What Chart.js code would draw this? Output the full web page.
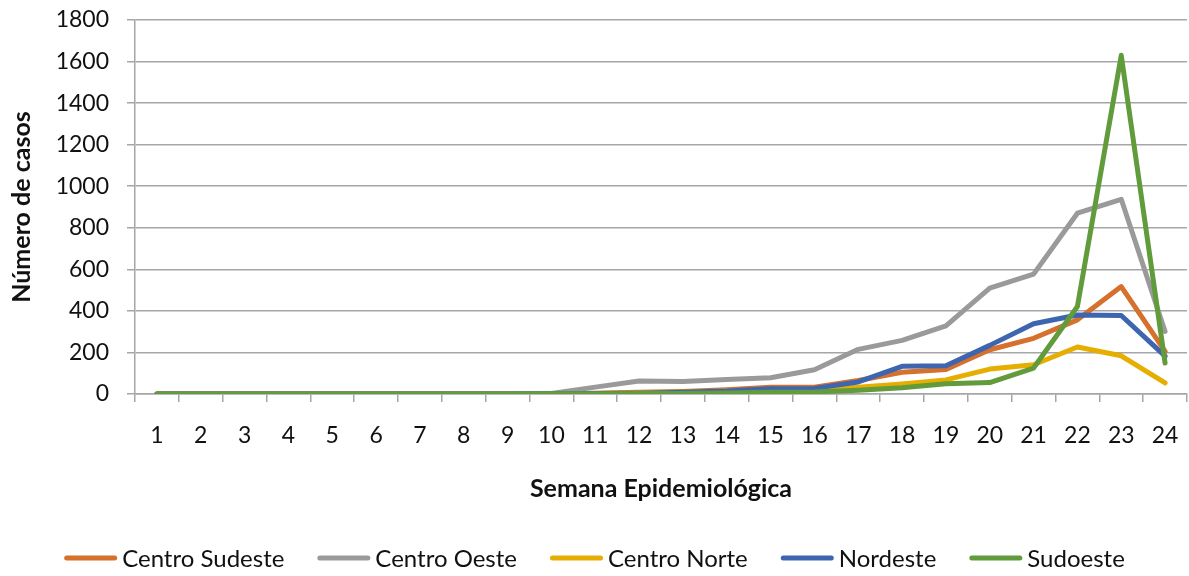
<!DOCTYPE html>
<html lang="pt">
<head>
<meta charset="utf-8">
<title>Casos por semana epidemiológica</title>
<script src="https://cdn.jsdelivr.net/npm/chart.js@4.4.1/dist/chart.umd.min.js"></script>
<style>
  html, body { margin: 0; padding: 0; background: #ffffff; }
  #wrap { width: 1189px; height: 576px; position: relative; }
</style>
</head>
<body>
<div id="wrap"><canvas id="chart" width="1189" height="576"></canvas></div>
<script>
// Semanas epidemiológicas 1–24
const weeks = ['1','2','3','4','5','6','7','8','9','10','11','12','13','14','15','16','17','18','19','20','21','22','23','24'];

// Número de casos por região
const centroSudeste = [0,0,0,0,0,0,0,0,0,2,4,8,12,20,32,33,65,105,118,213,268,357,517,205];
const centroOeste   = [0,0,0,0,0,0,0,0,0,3,33,63,60,70,78,117,215,258,328,510,577,870,937,301];
const centroNorte   = [0,0,0,0,0,0,0,0,0,1,3,5,8,14,20,22,32,48,68,120,141,226,184,53];
const nordeste      = [0,0,0,0,0,0,0,0,0,1,2,4,8,14,25,27,58,133,136,234,338,380,378,182];
const sudoeste      = [0,0,0,0,0,0,0,0,0,1,1,2,3,5,8,10,18,30,49,55,125,421,1630,149];

const seriesNames  = ['Centro Sudeste', 'Centro Oeste', 'Centro Norte', 'Nordeste', 'Sudoeste'];
const seriesValues = [centroSudeste, centroOeste, centroNorte, nordeste, sudoeste];
const seriesColors = ['#d5712c', '#9a9a9a', '#e5ae00', '#3e66b0', '#629b3c'];

const yTicks = { min: 0, max: 1800, step: 200 };

const FONT = "Lato, 'Open Sans', 'Liberation Sans', sans-serif";
const GRID = '#a6a6a6';
const TEXT = '#111111';

const datasets = seriesNames.map((name, i) => ({
  label: name,
  data: seriesValues[i],
  borderColor: seriesColors[i],
  backgroundColor: seriesColors[i],
  borderWidth: 5,
  pointRadius: 0,
  pointHoverRadius: 0,
  tension: 0,
  fill: false,
  borderCapStyle: 'round',
  borderJoinStyle: 'round',
  // later series are painted over earlier ones
  order: seriesNames.length - i
}));

// Legend row under the axis title: short thick line + series name
const bottomLegend = {
  id: 'bottomLegend',
  afterDraw(chart) {
    const ctx = chart.ctx;
    const lineW = 53, gap = 5, spacing = 33, y = 558;
    ctx.save();
    ctx.font = "24px " + FONT;
    const widths = seriesNames.map(n => ctx.measureText(n).width);
    let total = 0;
    widths.forEach((w, i) => { total += lineW + gap + w + (i < widths.length - 1 ? spacing : 0); });
    let x = (chart.width - total) / 2;
    seriesNames.forEach((name, i) => {
      ctx.strokeStyle = seriesColors[i];
      ctx.lineWidth = 5;
      ctx.lineCap = 'round';
      ctx.beginPath();
      ctx.moveTo(x + 2.5, y);
      ctx.lineTo(x + lineW - 2.5, y);
      ctx.stroke();
      ctx.fillStyle = TEXT;
      ctx.textBaseline = 'middle';
      ctx.textAlign = 'left';
      ctx.fillText(name, x + lineW + gap, y + 1);
      x += lineW + gap + widths[i] + spacing;
    });
    ctx.restore();
  }
};

new Chart(document.getElementById('chart'), {
  type: 'line',
  data: { labels: weeks, datasets },
  options: {
    responsive: false,
    animation: false,
    events: [],
    layout: { padding: { top: 20, right: 2, bottom: 50, left: 0 } },
    plugins: {
      legend: { display: false },
      tooltip: { enabled: false }
    },
    scales: {
      x: {
        type: 'category',
        offset: true,
        grid: {
          offset: true,
          drawOnChartArea: false,
          drawTicks: true,
          tickLength: 8,
          color: GRID,
          lineWidth: 1.5
        },
        border: { display: true, color: GRID, width: 1.5 },
        ticks: {
          color: TEXT,
          font: { family: FONT, size: 23 },
          padding: 20,
          maxRotation: 0,
          autoSkip: false
        },
        title: {
          display: true,
          text: 'Semana Epidemiológica',
          color: TEXT,
          font: { family: FONT, size: 25, weight: 'bold' },
          padding: { top: 0, bottom: 22 }
        },
        afterFit(scale) { scale.height = 132; scale.paddingLeft = 0; scale.paddingRight = 0; }
      },
      y: {
        min: yTicks.min,
        max: yTicks.max,
        grid: {
          color: GRID,
          lineWidth: 1.5,
          drawTicks: true,
          tickLength: 8
        },
        border: { display: true, color: GRID, width: 1.5 },
        ticks: {
          stepSize: yTicks.step,
          color: TEXT,
          font: { family: FONT, size: 23 },
          padding: 18,
          callback: (v) => String(v)
        },
        title: {
          display: true,
          text: 'Número de casos',
          color: TEXT,
          font: { family: FONT, size: 25, weight: 'bold' },
          padding: { top: 7, bottom: 0 }
        },
        afterFit(scale) { scale.width = 135; scale.paddingTop = 0; scale.paddingBottom = 0; }
      }
    }
  },
  plugins: [bottomLegend]
});
</script>
</body>
</html>
